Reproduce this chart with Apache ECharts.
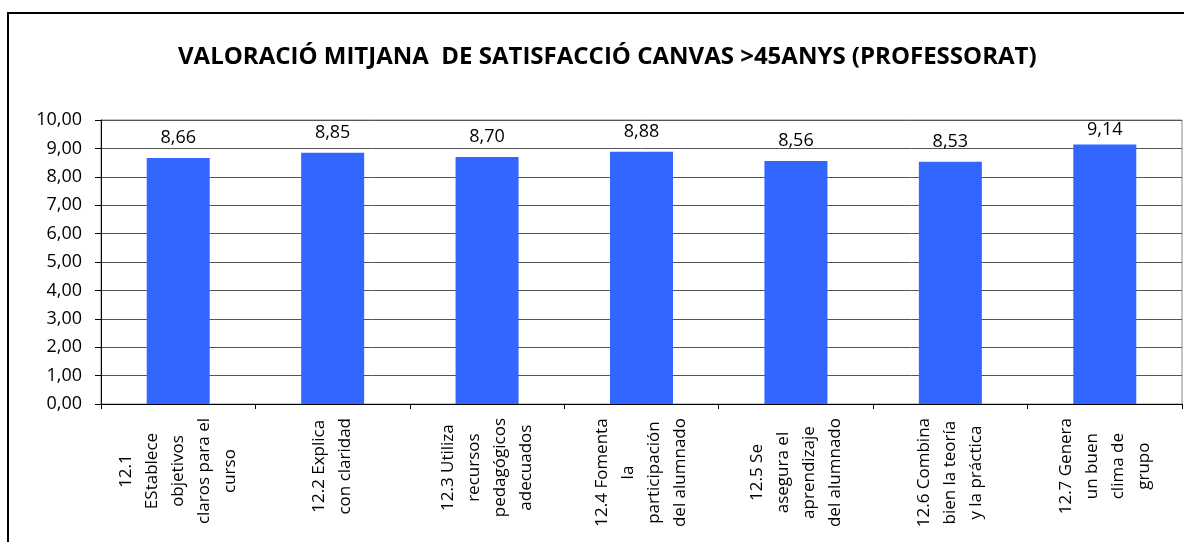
<!DOCTYPE html>
<html>
<head>
<meta charset="utf-8">
<script src="https://cdn.jsdelivr.net/npm/echarts@6/dist/echarts.min.js"></script>
<style>
  html, body { margin: 0; padding: 0; background: #fff; }
  #chart { width: 1184px; height: 542px; }
</style>
</head>
<body>
<div id="chart"></div>
<script>
// categories (line breaks as in the original chart)
const categories = [
  '12.1\nEStablece\nobjetivos\nclaros para el\ncurso',
  '12.2 Explica\ncon claridad',
  '12.3 Utiliza\nrecursos\npedagógicos\nadecuados',
  '12.4 Fomenta\nla\nparticipación\ndel alumnado',
  '12.5 Se\nasegura el\naprendizaje\ndel alumnado',
  '12.6 Combina\nbien la teoría\ny la práctica',
  '12.7 Genera\nun buen\nclima de\ngrupo'
]
const values = [8.66, 8.85, 8.70, 8.88, 8.56, 8.53, 9.14]
const titleText = 'VALORACIÓ MITJANA  DE SATISFACCIÓ CANVAS >45ANYS (PROFESSORAT)'

const fmt = (v) => v.toFixed(2).replace('.', ',')

const chart = echarts.init(document.getElementById('chart'))
const option = {
  animation: false,
  textStyle: { fontFamily: '"Open Sans", sans-serif' },
  title: {
    text: titleText,
    left: 173,
    top: 40,
    textStyle: { fontSize: 24, fontWeight: 'bold', color: '#000', fontFamily: '"Open Sans", sans-serif' }
  },
  // outer chart border (right and bottom edges fall outside the picture)
  graphic: [{
    type: 'rect',
    shape: { x: 8, y: 13, width: 1200, height: 560 },
    style: { fill: 'none', stroke: '#000', lineWidth: 2 },
    silent: true
  }],
  grid: {
    left: 101, right: 2, top: 120, bottom: 138,
    show: true, borderColor: '#888', borderWidth: 1
  },
  xAxis: {
    type: 'category',
    data: categories,
    axisLine: { lineStyle: { color: '#000' } },
    axisTick: { show: true, length: 5, lineStyle: { color: '#000' } },
    axisLabel: {
      rotate: 90, interval: 0, margin: 14, align: 'right',
      // each line centred inside the label block
      formatter: (v) => v.split('\n').map((l) => '{c|' + l + '}').join('\n'),
      rich: { c: { align: 'center', color: '#000', fontSize: 17, lineHeight: 26 } }
    }
  },
  yAxis: {
    type: 'value',
    min: 0, max: 10, interval: 1,
    axisLine: { show: true, lineStyle: { color: '#000' } },
    axisTick: { show: true, length: 6, lineStyle: { color: '#000' } },
    axisLabel: { color: '#000', fontSize: 18, margin: 19, formatter: fmt },
    splitLine: { lineStyle: { color: '#555' } }
  },
  series: [{
    type: 'bar',
    data: values,
    barWidth: 63,
    itemStyle: { color: '#3366FF' },
    label: {
      show: true, position: 'top', distance: 11,
      color: '#000', fontSize: 18,
      formatter: (p) => fmt(p.value)
    },
    // keep labels inside the plot area, like the original
    labelLayout: (p) => (p.labelRect.y < 121 ? { dy: 121 - p.labelRect.y } : {})
  }]
}
chart.setOption(option)
</script>
</body>
</html>
